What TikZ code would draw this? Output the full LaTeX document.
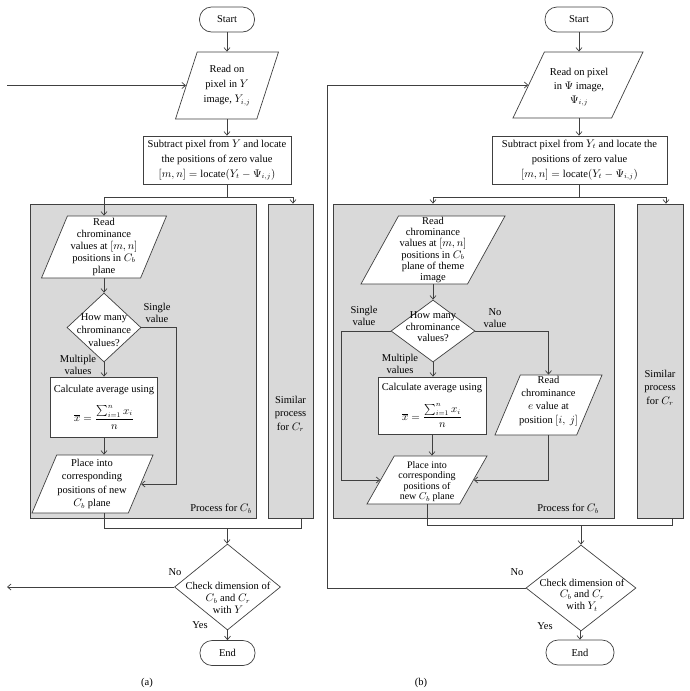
\documentclass[tikz,border=0pt]{standalone}
\usepackage{amsmath}
\usepackage{fontspec}
\setmainfont{Liberation Serif}
\usetikzlibrary{shapes.geometric,arrows.meta}
\definecolor{lc}{RGB}{64,64,64}
\definecolor{gf}{RGB}{217,217,217}
\begin{document}
\begin{tikzpicture}[x=1pt,y=-1pt,
  every node/.style={font=\fontsize{10.5}{12.5}\selectfont, text=black},
  ln/.style={draw=lc, line width=0.7pt},
  arr/.style={ln, -{Straight Barb[length=3.5pt,width=6pt]}},
  term/.style={draw=lc, line width=0.7pt, fill=white, rounded corners=12pt, minimum height=25pt, inner sep=0pt},
  box/.style={draw=lc, line width=0.7pt, fill=white, inner sep=1pt, align=center},
  grey/.style={draw=lc, line width=0.7pt, fill=gf, inner sep=0pt},
  para/.style n args={4}{draw=lc, line width=0.7pt, fill=white, trapezium, trapezium left angle=#1, trapezium right angle=#2, trapezium stretches=true, minimum width=#3, minimum height=#4, inner sep=1pt},
  dia/.style 2 args={draw=lc, line width=0.7pt, fill=white, diamond, minimum width=#1, minimum height=#2, inner sep=0pt},
  ctr/.style={align=center, inner sep=0pt},
]
\useasboundingbox (0,0) rectangle (690,691);

% ---------- (a) ----------
\node[grey, minimum width=226pt, minimum height=314pt] (cbA) at (143,361) {};
\node[grey, minimum width=45pt, minimum height=314pt] (crA) at (290.5,361) {};
\node[ctr, font=\fontsize{10.5}{13.5}\selectfont] (tcrA) at (290.5,414) {Similar\\process\\for $C_r$};
\node[ctr, anchor=east] (tpA) at (252,509) {Process for $C_b$};

\node[term, minimum width=55pt] (startA) at (227,19.5) {Start};
\node[para={70}{110}{103pt}{67pt}] (pA1) at (227,85.5) {};
\node[ctr, font=\fontsize{10.5}{15}\selectfont] (tpA1) at (pA1) {Read on\\pixel in $Y$\\image, $Y_{i,j}$};
\node[box, minimum width=148pt, minimum height=48pt, font=\fontsize{10.5}{15}\selectfont] (rA) at (217,160) {Subtract pixel from $Y$ and locate\\the positions of zero value\\$[m,n]=\mathrm{locate}(Y_t-\Psi_{i,j})$};
\node[para={70.5}{109.5}{125pt}{62pt}] (pA2) at (104,247) {};
\node[ctr, font=\fontsize{10.5}{11.8}\selectfont] (tpA2) at (pA2) {Read\\chrominance\\values at $[m,n]$\\positions in $C_b$\\plane};
\node[dia={74pt}{69pt}] (dA1) at (104,327.5) {};
\node[ctr, font=\fontsize{10.5}{13}\selectfont] (tdA1) at (104,330) {How many\\chrominance\\values?};
\node[ctr] (lsA) at (157,313) {Single\\value};
\node[ctr] (lmA) at (78,365) {Multiple\\values};
\node[box, minimum width=107pt, minimum height=60pt] (cA) at (104,407) {Calculate average using\\[10pt]$\overline{x}=\dfrac{\sum_{i=1}^{n}x_i}{n}$};
\node[para={71}{109}{121pt}{58pt}] (pA3) at (92.5,484) {};
\node[ctr, font=\fontsize{10.5}{13.5}\selectfont] (tpA3) at (92,484) {Place into\\corresponding\\positions of new\\$C_b$ plane};
\node[dia={106pt}{86pt}] (dA2) at (227.5,587) {};
\node[ctr, font=\fontsize{10.5}{12}\selectfont] (tdA2) at (228,598) {Check dimension of\\$C_b$ and $C_r$\\with $Y$};
\node (noA) at (175,572) {No};
\node (yesA) at (200,625) {Yes};
\node[term, minimum width=55pt] (endA) at (227.5,653) {End};
\node (capA) at (147,683) {(a)};

\coordinate (inA) at (7,85.5);
\coordinate (outA) at (7,587);
\coordinate (jA) at (227,197);
\coordinate (jA2) at (227,528);
\coordinate (sA) at (176,0);

\draw[arr] (startA.south) -- (pA1.north);
\draw[arr] (inA) -- (pA1.west);
\draw[arr] (pA1.south) -- (pA1.south |- rA.north);
\draw[ln] (pA1.south |- rA.south) -- (jA);
\draw[arr] (jA) -| (pA2.north);
\draw[arr] (jA) -| ([xshift=2.5pt]crA.north);
\draw[arr] (pA2.south) -- (dA1.north);
\draw[arr] (dA1.south) -- (cA.north);
\draw[arr] (dA1.east) -| (sA |- pA3.east) -- (pA3.east);
\draw[arr] (cA.south) -- (cA.south |- pA3.north);
\draw[ln] (dA1.south |- pA3.south) -- (dA1.south |- jA2) -| ([xshift=11pt]crA.south);
\draw[arr] (jA2) -- (jA2 |- dA2.north);
\draw[arr] (dA2.west) -- (outA);
\draw[arr] (dA2.south) -- (endA.north);

% ---------- (b) ----------
\node[grey, minimum width=281pt, minimum height=314pt] (cbB) at (473.5,361) {};
\node[grey, minimum width=46pt, minimum height=314pt] (crB) at (660,361) {};
\node[ctr, font=\fontsize{10.5}{13.5}\selectfont] (tcrB) at (660,388) {Similar\\process\\for $C_r$};
\node[ctr, anchor=east] (tpB) at (599,509) {Process for $C_b$};

\node[term, minimum width=68pt] (startB) at (579,19.5) {Start};
\node[para={65}{115}{130pt}{66pt}] (pB1) at (578,85) {};
\node[ctr, font=\fontsize{10.5}{14}\selectfont] (tpB1) at (579,87) {Read on pixel\\in $\Psi$ image,\\$\Psi_{i,j}$};
\node[box, minimum width=175pt, minimum height=48pt, font=\fontsize{10.5}{15}\selectfont] (rB) at (579.5,160) {Subtract pixel from $Y_t$ and locate the\\positions of zero value\\$[m,n]=\mathrm{locate}(Y_t-\Psi_{i,j})$};
\node[para={61.5}{118.5}{144pt}{68pt}] (pB2) at (433,250) {};
\node[ctr, font=\fontsize{10.5}{11.3}\selectfont] (tpB2) at (433,250) {Read\\chrominance\\values at $[m,n]$\\positions in $C_b$\\plane of theme\\image};
\node[dia={84pt}{62pt}] (dB1) at (433,331) {};
\node[ctr, font=\fontsize{10.5}{11.5}\selectfont] (tdB1) at (433,327) {How many\\chrominance\\values?};
\node[ctr] (lsB) at (364,316) {Single\\value};
\node[ctr] (lnB) at (495,318) {No\\value};
\node[ctr] (lmB) at (400,364) {Multiple\\values};
\node[para={65.8}{114.2}{107pt}{60pt}] (pB4) at (548.5,405) {};
\node[ctr, font=\fontsize{10.5}{13.3}\selectfont] (tpB4) at (548.5,401) {Read\\chrominance\\$e$ value at\\position $[i,\ j]$};
\node[box, minimum width=108pt, minimum height=57pt] (cB) at (432,405.5) {Calculate average using\\[10pt]$\overline{x}=\dfrac{\sum_{i=1}^{n}x_i}{n}$};
\node[para={67.4}{112.6}{120pt}{48pt}] (pB3) at (427,480) {};
\node[ctr, font=\fontsize{10}{10.5}\selectfont] (tpB3) at (427,481.5) {Place into\\corresponding\\positions of\\new $C_b$ plane};
\node[dia={110pt}{86pt}] (dB2) at (581,588) {};
\node[ctr, font=\fontsize{10.5}{11.5}\selectfont] (tdB2) at (582,595) {Check dimension of\\$C_b$ and $C_r$\\with $Y_t$};
\node (noB) at (517,572) {No};
\node (yesB) at (545,626) {Yes};
\node[term, minimum width=68pt] (endB) at (580,652.5) {End};
\node (capB) at (421,683) {(b)};

\coordinate (jB) at (579,197);
\coordinate (jB2) at (581,525);
\coordinate (sB) at (341,0);
\coordinate (lpB) at (327,0);

\draw[arr] (startB.south) -- (startB.south |- pB1.north);
\draw[arr] (startB.south |- pB1.south) -- (startB.south |- rB.north);
\draw[ln] (startB.south |- rB.south) -- (jB);
\draw[arr] (jB) -| (pB2.north |- cbB.north);
\draw[arr] (jB) -| ([xshift=6pt]crB.north);
\draw[arr] (pB2.south) -- (dB1.north);
\draw[arr] (dB1.west) -| (sB |- pB3.west) -- (pB3.west);
\draw[arr] (dB1.east) -| (pB4.north);
\draw[arr] (dB1.south) -- (dB1.south |- cB.north);
\draw[arr] (cB.south) -- (cB.south |- pB3.north);
\draw[arr] (pB4.south) |- (pB3.east);
\draw[ln] (pB3.south) -- (pB3.south |- jB2) -| ([xshift=12pt]crB.south);
\draw[arr] (jB2) -- (dB2.north);
\draw[arr] (dB2.west) -| (lpB |- pB1.west) -- (pB1.west);
\draw[arr] (dB2.south) -- (endB.north |- dB2.south) -- (endB.north);
\end{tikzpicture}
\end{document}
